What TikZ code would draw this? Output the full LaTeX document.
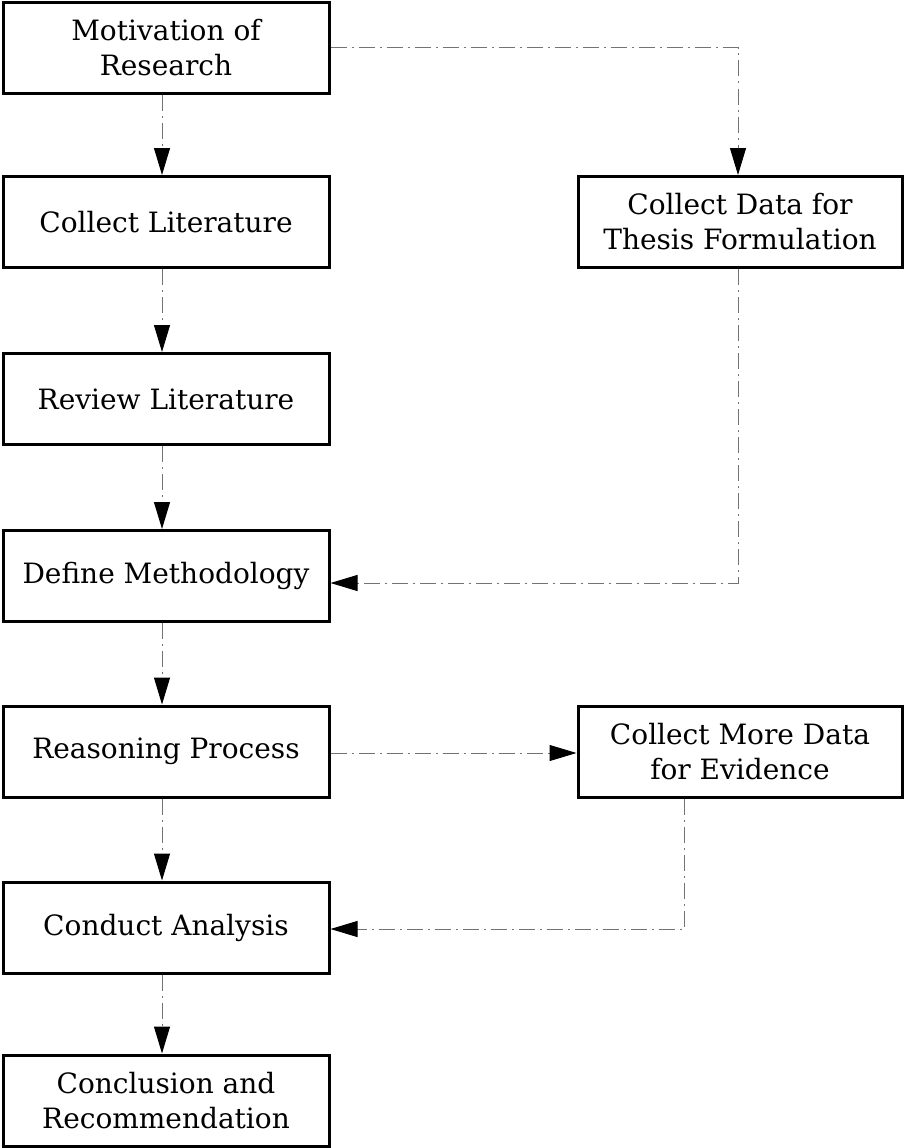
\documentclass[tikz,border=0pt]{standalone}
\usepackage{fontspec}
\setmainfont{DejaVu Serif}
\usetikzlibrary{arrows.meta}
\begin{document}
\begin{tikzpicture}[x=1pt,y=-1pt,
  stepbox/.style={draw=black, line width=3pt, minimum width=326pt, minimum height=91pt,
    inner sep=0pt, align=center, font=\fontsize{28}{35}\selectfont},
  link/.style={draw=black!55, line width=1pt,
    dash pattern=on 16pt off 5pt on 2pt off 5pt,
    -{Triangle[length=27pt,width=16pt,color=black]}}
]
\useasboundingbox (0,0) rectangle (904,1148);

% main sequence, left column
\node[stepbox] (mot) at (166,48)    {Motivation of\\Research};
\node[stepbox] (lit) at (166,222)   {Collect Literature};
\node[stepbox] (rev) at (166,399)   {Review Literature};
\node[stepbox] (def) at (166,576)   {Define Methodology};
\node[stepbox] (rea) at (166,751.5) {Reasoning Process};
\node[stepbox] (ana) at (166,927.5) {Conduct Analysis};
\node[stepbox] (con) at (166,1100.5){Conclusion and\\Recommendation};

% data gathering, right column
\node[stepbox, minimum width=324pt] (dat) at (740,222)   {Collect Data for\\Thesis Formulation};
\node[stepbox, minimum width=324pt] (mor) at (740,751.5) {Collect More Data\\for Evidence};

% vertical flow
\draw[link] ([xshift=-4pt]mot.south) -- ([xshift=-4pt]lit.north);
\draw[link] ([xshift=-4pt]lit.south) -- ([xshift=-4pt]rev.north);
\draw[link] ([xshift=-4pt]rev.south) -- ([xshift=-4pt]def.north);
\draw[link] ([xshift=-4pt]def.south) -- ([xshift=-4pt]rea.north);
\draw[link] ([xshift=-4pt]rea.south) -- ([xshift=-4pt]ana.north);
\draw[link] ([xshift=-4pt]ana.south) -- ([xshift=-4pt]con.north);

% side loops
\draw[link] (mot.east) -| ([xshift=-2pt]dat.north);
\draw[link] ([xshift=-2pt]dat.south) |- ([yshift=-7pt]def.east);
\draw[link] ([yshift=-1.5pt]rea.east) -- ([yshift=-1.5pt]mor.west);
\draw[link] ([xshift=-56pt]mor.south) |- ([yshift=-1.5pt]ana.east);
\end{tikzpicture}
\end{document}
